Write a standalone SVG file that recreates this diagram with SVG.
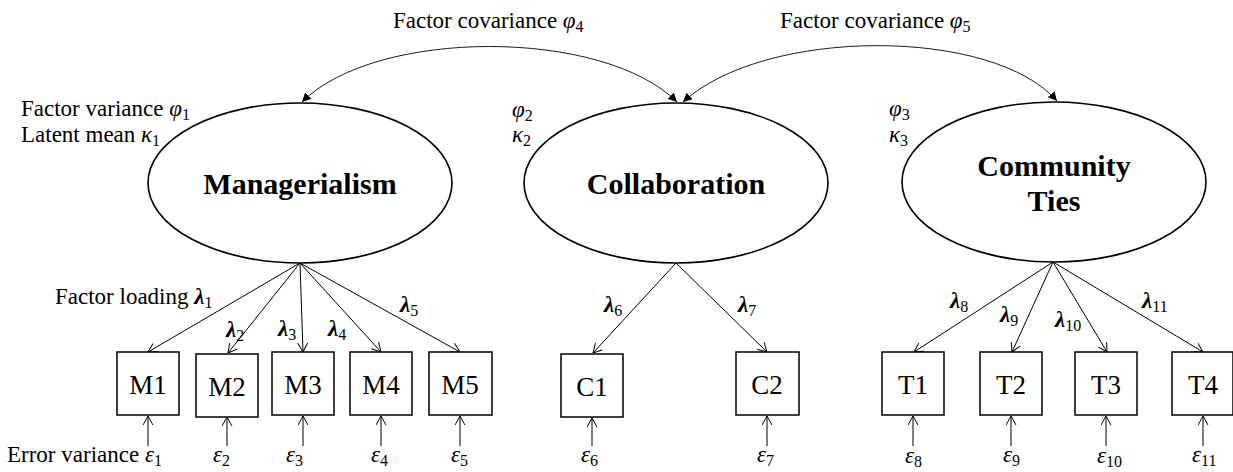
<svg xmlns="http://www.w3.org/2000/svg" width="1233" height="472" viewBox="0 0 1233 472">
<style>
text{font-family:"Liberation Serif","Times New Roman",serif;fill:#000}
.lbl{font-size:23px}
.sub{font-size:16px}
.gr{font-style:italic}
.lam{font-style:italic;font-weight:bold}
.node{font-size:30px;font-weight:bold;text-anchor:middle}
.ind{font-size:27px;text-anchor:middle}
.ell{fill:#fff;stroke:#000;stroke-width:1.6}
.box{fill:#fff;stroke:#000;stroke-width:1.5}
.cov{fill:none;stroke:#000;stroke-width:0.9;marker-start:url(#fa);marker-end:url(#fa)}
.ar{fill:none;stroke:#000;stroke-width:1;marker-end:url(#oa)}
</style>
<defs>
<marker id="fa" viewBox="0 0 10 10" refX="10" refY="5" markerWidth="9" markerHeight="9" markerUnits="userSpaceOnUse" orient="auto-start-reverse">
<path d="M0,0 L10,5 L0,10 Z" fill="#000"/>
</marker>
<marker id="oa" viewBox="0 0 10 12" refX="10" refY="6" markerWidth="9" markerHeight="11" markerUnits="userSpaceOnUse" orient="auto">
<path d="M0,0.5 L10,6 L0,11.5" fill="none" stroke="#000" stroke-width="1.1"/>
</marker>
</defs>

<g id="connectors">
<path class="cov" d="M302,102 C376,28 603,28 677,102"/>
<path class="cov" d="M683,102 C765,27 993,27 1057,101"/>
<line class="ar" x1="300" y1="263" x2="148" y2="352"/>
<line class="ar" x1="300" y1="263" x2="228" y2="353"/>
<line class="ar" x1="300" y1="263" x2="303" y2="352"/>
<line class="ar" x1="300" y1="263" x2="381" y2="352"/>
<line class="ar" x1="300" y1="263" x2="460" y2="352"/>
<line class="ar" x1="676" y1="263" x2="593" y2="353"/>
<line class="ar" x1="676" y1="263" x2="767" y2="352"/>
<line class="ar" x1="1053" y1="262" x2="914" y2="352"/>
<line class="ar" x1="1053" y1="262" x2="1012" y2="352"/>
<line class="ar" x1="1053" y1="262" x2="1107" y2="352"/>
<line class="ar" x1="1053" y1="262" x2="1203" y2="352"/>
<line class="ar" x1="148" y1="446" x2="148" y2="416"/>
<line class="ar" x1="227" y1="446" x2="227" y2="417"/>
<line class="ar" x1="303" y1="446" x2="303" y2="416"/>
<line class="ar" x1="381" y1="446" x2="381" y2="416"/>
<line class="ar" x1="460" y1="446" x2="460" y2="416"/>
<line class="ar" x1="592" y1="446" x2="592" y2="418"/>
<line class="ar" x1="767" y1="446" x2="767" y2="416"/>
<line class="ar" x1="913" y1="446" x2="913" y2="416"/>
<line class="ar" x1="1011" y1="446" x2="1011" y2="416"/>
<line class="ar" x1="1106" y1="446" x2="1106" y2="416"/>
<line class="ar" x1="1203" y1="446" x2="1203" y2="416"/>
</g>

<g id="managerialism">
<ellipse class="ell" cx="300" cy="183" rx="152" ry="80"/>
<text class="node" x="300" y="194">Managerialism</text>
</g>
<g id="collaboration">
<ellipse class="ell" cx="676" cy="183" rx="152" ry="80"/>
<text class="node" x="676" y="194">Collaboration</text>
</g>
<g id="community-ties">
<ellipse class="ell" cx="1054" cy="182" rx="152" ry="80"/>
<text class="node" x="1054" y="176">Community</text>
<text class="node" x="1054" y="211">Ties</text>
</g>

<g id="M1"><rect class="box" x="117" y="352" width="62" height="63"/><text class="ind" x="148" y="394">M1</text></g>
<g id="M2"><rect class="box" x="196" y="354" width="62" height="63"/><text class="ind" x="227" y="396">M2</text></g>
<g id="M3"><rect class="box" x="272" y="352" width="62" height="63"/><text class="ind" x="303" y="394">M3</text></g>
<g id="M4"><rect class="box" x="350" y="352" width="62" height="63"/><text class="ind" x="381" y="394">M4</text></g>
<g id="M5"><rect class="box" x="429" y="352" width="63" height="63"/><text class="ind" x="460" y="394">M5</text></g>
<g id="C1"><rect class="box" x="561" y="354" width="62" height="63"/><text class="ind" x="592" y="396">C1</text></g>
<g id="C2"><rect class="box" x="736" y="352" width="63" height="63"/><text class="ind" x="767" y="394">C2</text></g>
<g id="T1"><rect class="box" x="882" y="352" width="62" height="63"/><text class="ind" x="913" y="394">T1</text></g>
<g id="T2"><rect class="box" x="980" y="352" width="62" height="63"/><text class="ind" x="1011" y="394">T2</text></g>
<g id="T3"><rect class="box" x="1075" y="352" width="62" height="63"/><text class="ind" x="1106" y="394">T3</text></g>
<g id="T4"><rect class="box" x="1172" y="352" width="61" height="63"/><text class="ind" x="1203" y="394">T4</text></g>

<g id="labels">
<text class="lbl" x="393" y="28">Factor covariance <tspan class="gr">φ</tspan><tspan class="sub" dy="4">4</tspan></text>
<text class="lbl" x="780" y="28">Factor covariance <tspan class="gr">φ</tspan><tspan class="sub" dy="4">5</tspan></text>
<text class="lbl" x="21" y="116">Factor variance <tspan class="gr">φ</tspan><tspan class="sub" dy="4">1</tspan></text>
<text class="lbl" x="21" y="142">Latent mean <tspan class="gr">κ</tspan><tspan class="sub" dy="4">1</tspan></text>
<text class="lbl" x="512" y="117"><tspan class="gr">φ</tspan><tspan class="sub" dy="4">2</tspan></text>
<text class="lbl" x="512" y="142"><tspan class="gr">κ</tspan><tspan class="sub" dy="4">2</tspan></text>
<text class="lbl" x="889" y="116"><tspan class="gr">φ</tspan><tspan class="sub" dy="4">3</tspan></text>
<text class="lbl" x="889" y="142"><tspan class="gr">κ</tspan><tspan class="sub" dy="4">3</tspan></text>

<text class="lbl" x="55" y="304">Factor loading <tspan class="lam">λ</tspan><tspan class="sub" dy="4">1</tspan></text>
<text class="lbl" x="226" y="337"><tspan class="lam">λ</tspan><tspan class="sub" dy="4">2</tspan></text>
<text class="lbl" x="278" y="336"><tspan class="lam">λ</tspan><tspan class="sub" dy="4">3</tspan></text>
<text class="lbl" x="328" y="336"><tspan class="lam">λ</tspan><tspan class="sub" dy="4">4</tspan></text>
<text class="lbl" x="400" y="312"><tspan class="lam">λ</tspan><tspan class="sub" dy="4">5</tspan></text>
<text class="lbl" x="604" y="312"><tspan class="lam">λ</tspan><tspan class="sub" dy="4">6</tspan></text>
<text class="lbl" x="738" y="312"><tspan class="lam">λ</tspan><tspan class="sub" dy="4">7</tspan></text>
<text class="lbl" x="950" y="308"><tspan class="lam">λ</tspan><tspan class="sub" dy="4">8</tspan></text>
<text class="lbl" x="1000" y="322"><tspan class="lam">λ</tspan><tspan class="sub" dy="4">9</tspan></text>
<text class="lbl" x="1055" y="327"><tspan class="lam">λ</tspan><tspan class="sub" dy="4">10</tspan></text>
<text class="lbl" x="1142" y="308"><tspan class="lam">λ</tspan><tspan class="sub" dy="4">11</tspan></text>

<text class="lbl" x="7" y="462">Error variance <tspan class="gr">ε</tspan><tspan class="sub" dy="4">1</tspan></text>
<text class="lbl" x="213" y="462"><tspan class="gr">ε</tspan><tspan class="sub" dy="4">2</tspan></text>
<text class="lbl" x="286" y="462"><tspan class="gr">ε</tspan><tspan class="sub" dy="4">3</tspan></text>
<text class="lbl" x="371" y="462"><tspan class="gr">ε</tspan><tspan class="sub" dy="4">4</tspan></text>
<text class="lbl" x="451" y="462"><tspan class="gr">ε</tspan><tspan class="sub" dy="4">5</tspan></text>
<text class="lbl" x="581" y="462"><tspan class="gr">ε</tspan><tspan class="sub" dy="4">6</tspan></text>
<text class="lbl" x="757" y="462"><tspan class="gr">ε</tspan><tspan class="sub" dy="4">7</tspan></text>
<text class="lbl" x="905" y="463"><tspan class="gr">ε</tspan><tspan class="sub" dy="4">8</tspan></text>
<text class="lbl" x="1003" y="462"><tspan class="gr">ε</tspan><tspan class="sub" dy="4">9</tspan></text>
<text class="lbl" x="1097" y="463"><tspan class="gr">ε</tspan><tspan class="sub" dy="4">10</tspan></text>
<text class="lbl" x="1192" y="462"><tspan class="gr">ε</tspan><tspan class="sub" dy="4">11</tspan></text>
</g>
</svg>
